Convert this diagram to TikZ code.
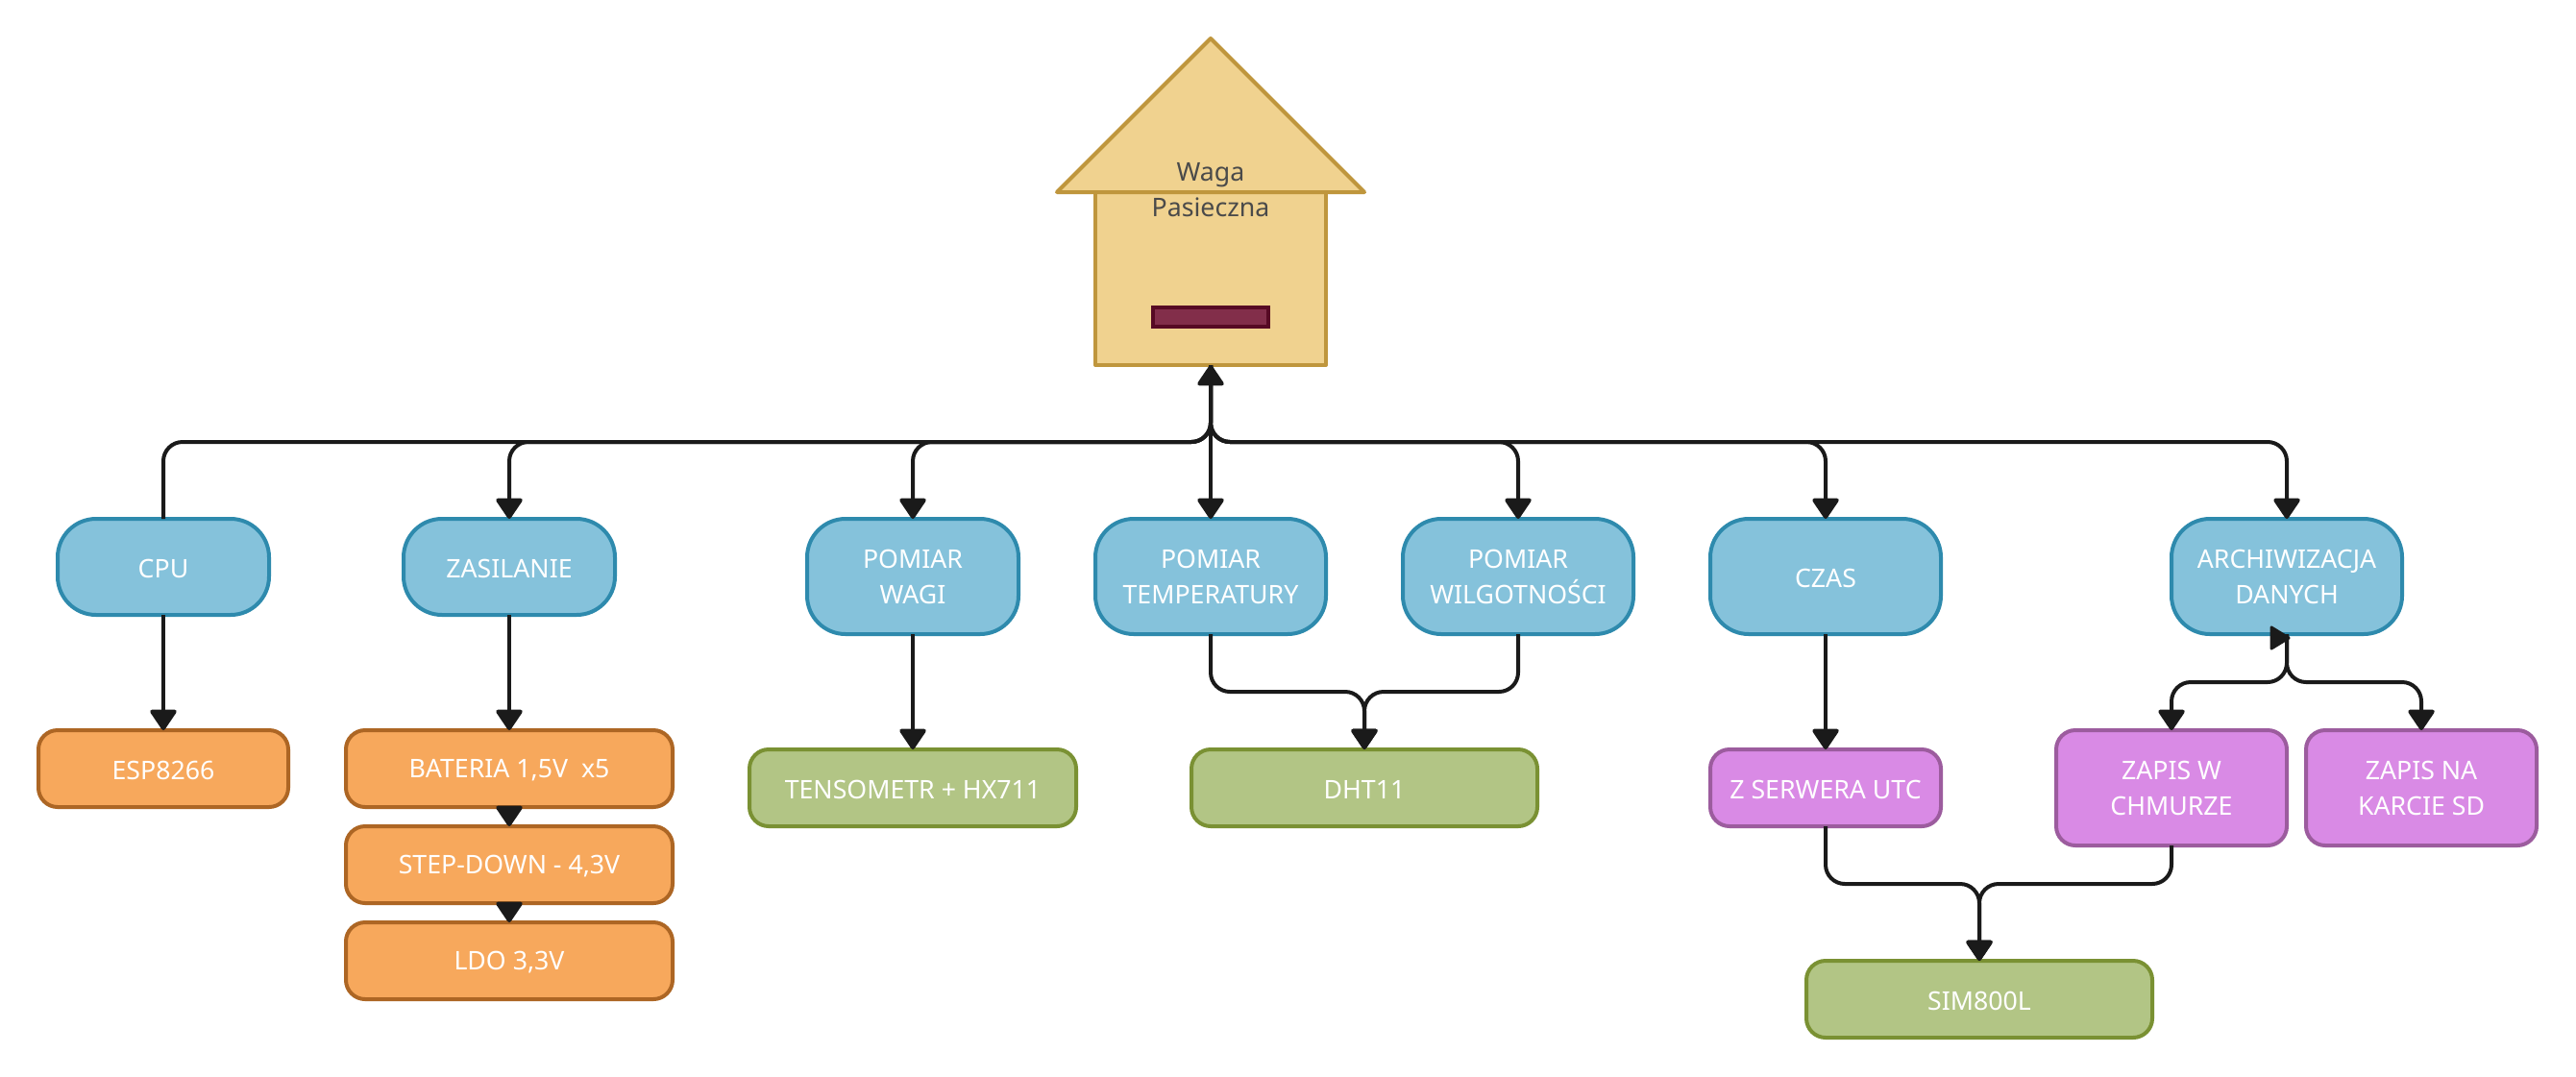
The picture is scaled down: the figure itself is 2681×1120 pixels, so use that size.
\documentclass[tikz,border=0pt]{standalone}
\usepackage{fontspec}
\setmainfont{Noto Sans}
\usetikzlibrary{arrows.meta,calc}
\definecolor{bluef}{HTML}{85C2DB}
\definecolor{blues}{HTML}{2E8AAD}
\definecolor{orangef}{HTML}{F7A85C}
\definecolor{oranges}{HTML}{AD6624}
\definecolor{greenf}{HTML}{B2C585}
\definecolor{greens}{HTML}{7A9133}
\definecolor{purplef}{HTML}{D98AE5}
\definecolor{purples}{HTML}{9C5C9E}
\definecolor{housef}{HTML}{F0D28F}
\definecolor{houses}{HTML}{BF963D}
\definecolor{slotf}{HTML}{822E4A}
\definecolor{slots}{HTML}{570A24}
\definecolor{linec}{HTML}{1A1A1A}
\definecolor{labelc}{HTML}{4A4A4A}
\tikzset{
  basebox/.style={draw,line width=4pt,outer sep=0pt,inner sep=0pt,align=center,text=white,
    font=\fontsize{26.7}{37}\selectfont,execute at begin node={\rule{0pt}{23pt}}},
  bluebox/.style={basebox,fill=bluef,draw=blues,rounded corners=40pt},
  orangebox/.style={basebox,fill=orangef,draw=oranges,rounded corners=20pt},
  greenbox/.style={basebox,fill=greenf,draw=greens,rounded corners=20pt},
  purplebox/.style={basebox,fill=purplef,draw=purples,rounded corners=20pt},
  conn/.style={draw=linec,line width=4pt,rounded corners=20pt,
    arrows={-{Triangle[length=23pt,width=30pt,round]}}},
  housepart/.style={draw=houses,fill=housef,line width=4pt,line join=round},
}
\begin{document}
\begin{tikzpicture}[x=1pt,y=-1pt]
\path[fill=white,use as bounding box] (0,0) rectangle (2681,1120);
% house
\node[housepart,outer sep=0pt,inner sep=0pt,minimum width=240pt,minimum height=180pt] (house) at (1260,290) {};
\coordinate (roofl) at (1100,200);
\coordinate (roofr) at (1420,200);
\coordinate (apex) at (1260,40);
\path[housepart] (roofl) -- (apex) -- (roofr) -- cycle;
\node[align=center,text=labelc,font=\fontsize{26.7}{37}\selectfont,inner sep=0pt] (houselabel) at (1260,198) {Waga\\Pasieczna};
\node[draw=slots,fill=slotf,line width=4pt,inner sep=0pt,outer sep=0pt,minimum width=120pt,minimum height=20pt] (slot) at (1260,330) {};
% top level
\node[bluebox,minimum width=220pt,minimum height=100pt] (cpu) at (170,590) {CPU};
\node[bluebox,minimum width=220pt,minimum height=100pt] (zas) at (530,590) {ZASILANIE};
\node[bluebox,minimum width=220pt,minimum height=120pt] (wagi) at (950,600) {POMIAR\\WAGI};
\node[bluebox,minimum width=240pt,minimum height=120pt] (temp) at (1260,600) {POMIAR\\TEMPERATURY};
\node[bluebox,minimum width=240pt,minimum height=120pt] (wilg) at (1580,600) {POMIAR\\WILGOTNOŚCI};
\node[bluebox,minimum width=240pt,minimum height=120pt] (czas) at (1900,600) {CZAS};
\node[bluebox,minimum width=240pt,minimum height=120pt] (arch) at (2380,600) {ARCHIWIZACJA\\DANYCH};
% second level
\node[orangebox,minimum width=260pt,minimum height=80pt] (esp) at (170,800) {ESP8266};
\node[orangebox,minimum width=340pt,minimum height=80pt] (bat) at (530,800) {BATERIA 1,5V\ \ x5};
\node[orangebox,minimum width=340pt,minimum height=80pt] (step) at (530,900) {STEP-DOWN - 4,3V};
\node[orangebox,minimum width=340pt,minimum height=80pt] (ldo) at (530,1000) {LDO 3,3V};
\node[greenbox,minimum width=340pt,minimum height=80pt] (tens) at (950,820) {TENSOMETR + HX711};
\node[greenbox,minimum width=360pt,minimum height=80pt] (dht) at (1420,820) {DHT11};
\node[purplebox,minimum width=240pt,minimum height=80pt] (utc) at (1900,820) {Z SERWERA UTC};
\node[purplebox,minimum width=240pt,minimum height=120pt] (chm) at (2260,820) {ZAPIS W\\CHMURZE};
\node[purplebox,minimum width=240pt,minimum height=120pt] (sd) at (2520,820) {ZAPIS NA\\KARCIE SD};
\node[greenbox,minimum width=360pt,minimum height=80pt] (sim) at (2060,1040) {SIM800L};
% bus
\draw[conn] (cpu.north) -- (cpu.north |- 0,460) -- (1260,460) -- (house.south);
\foreach \t in {zas,wagi,wilg,czas,arch}
  \draw[conn] (house.south) -- (1260,460) -- (\t.north |- 0,460) -- (\t.north);
\draw[conn] (house.south) -- (temp.north);
% children
\draw[conn] (cpu.south) -- (esp.north);
\draw[conn] (zas.south) -- (bat.north);
\draw[conn] (bat.south) -- (step.north);
\draw[conn] (step.south) -- (ldo.north);
\draw[conn] (wagi.south) -- (tens.north);
\draw[conn] (czas.south) -- (utc.north);
\draw[conn] (temp.south) -- (1260,720) -- (1420,720) -- (dht.north);
\draw[conn] (wilg.south) -- (1580,720) -- (1420,720) -- (dht.north);
\draw[conn] (utc.south) -- (1900,920) -- (2060,920) -- (sim.north);
\draw[conn] (chm.south) -- (2260,920) -- (2060,920) -- (sim.north);
\draw[conn] (arch.south) -- (2380,710) -- (2260,710) -- (chm.north);
\draw[conn] (arch.south) -- (2380,710) -- (2520,710) -- (sd.north);
% sideways arrowhead on ARCHIWIZACJA
\path[fill=linec,draw=linec,line width=3pt,line join=round]
  ($(arch.south)+(2,4)$) -- ($(arch.south)+(-16,-7)$) -- ($(arch.south)+(-16,15)$) -- cycle;
\end{tikzpicture}
\end{document}
